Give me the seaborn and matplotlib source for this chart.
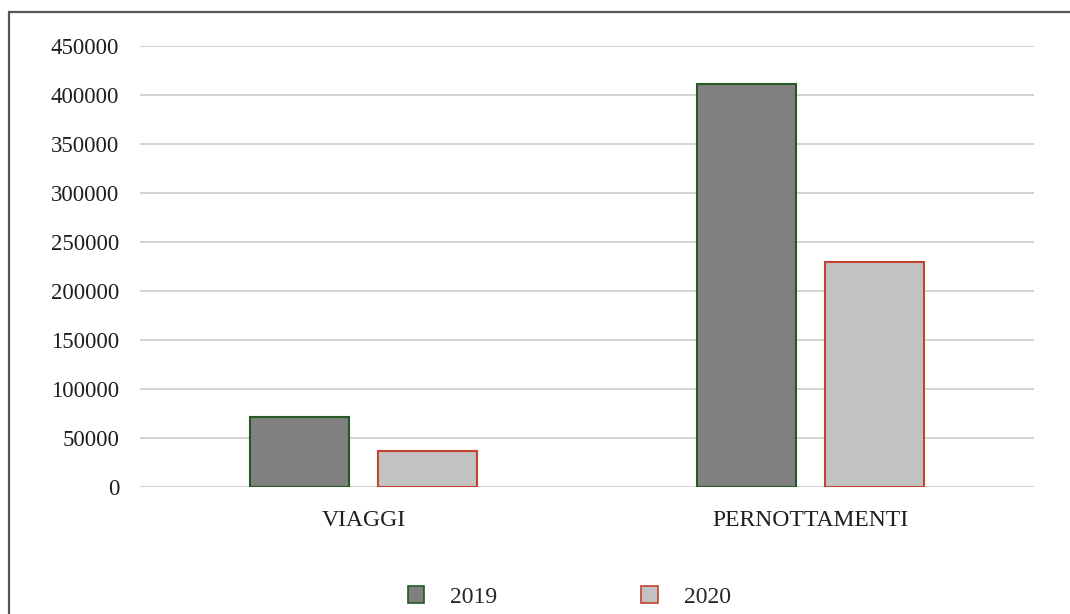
import matplotlib
matplotlib.use("Agg")
import matplotlib.pyplot as plt
import seaborn as sns
import pandas as pd
from matplotlib.patches import Rectangle, Patch

categories = ["VIAGGI", "PERNOTTAMENTI"]
years = ["2019", "2020"]
values_2019 = [71000, 411000]
values_2020 = [37000, 230000]
yticks = [0, 50000, 100000, 150000, 200000, 250000, 300000, 350000, 400000, 450000]

df = pd.DataFrame({
    "cat": categories * 2,
    "year": [years[0]] * 2 + [years[1]] * 2,
    "val": values_2019 + values_2020,
})

sns.set_theme(style="white")
plt.rcParams["font.family"] = ["Liberation Serif", "DejaVu Serif"]

fills = {"2019": "#808080", "2020": "#c2c2c2"}
edges = {"2019": "#245a24", "2020": "#c2432f"}

fig = plt.figure(figsize=(10.7, 6.14), dpi=100)
ax = fig.add_axes([140/1070, 127/614, 894/1070, 441/614])

sns.barplot(data=df, x="cat", y="val", hue="year", hue_order=years,
            order=categories, palette=fills, width=0.57, gap=0.224,
            ax=ax, legend=False, zorder=3)

for i, bar_container in enumerate(ax.containers):
    y = years[i]
    for b in bar_container:
        b.set_edgecolor(edges[y])
        b.set_linewidth(1.5)

ax.set_xlim(-0.5, 1.5)
ax.set_ylim(0, 450000)
ax.set_yticks(yticks)
ax.set_yticklabels([str(t) for t in yticks])
ax.yaxis.grid(True, color="#d0d0d0", linewidth=1.3, zorder=0)
ax.set_axisbelow(True)
for s in ax.spines.values():
    s.set_visible(False)
ax.tick_params(axis="both", length=0, colors="#1e1e1e")
ax.tick_params(axis="y", pad=15, labelsize=16.5)
ax.tick_params(axis="x", pad=16.5, labelsize=17)
ax.set_xlabel("")
ax.set_ylabel("")

handles = [Patch(facecolor=fills[y], edgecolor=edges[y], linewidth=1.2) for y in years]
fig.legend(handles, years, loc="center", bbox_to_anchor=(0.532, 0.028), ncol=2,
           frameon=False, fontsize=17, handlelength=0.7, handleheight=0.7,
           handletextpad=1.1, columnspacing=6.1)

fig.patches.append(Rectangle((9/1070, -0.1), 1.2, (614-12)/614 + 0.1,
                             transform=fig.transFigure, fill=False,
                             edgecolor="#555555", linewidth=1.6, figure=fig))

fig.savefig("out.png", dpi=100)
